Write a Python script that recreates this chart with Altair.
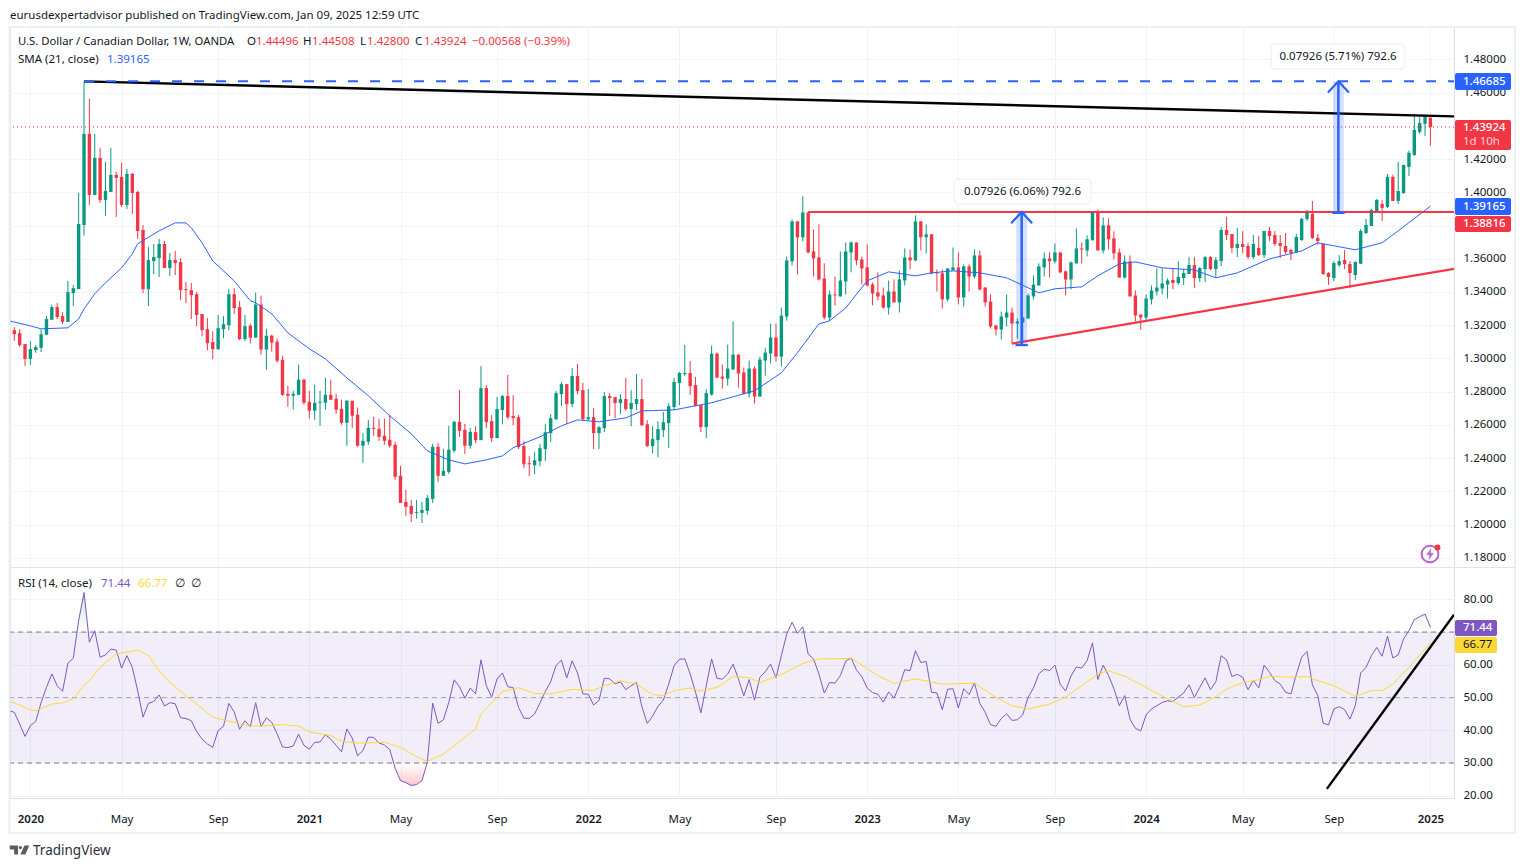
import altair as alt
import pandas as pd

FONT = "Noto Sans"
GREEN, RED, BLUE, PURPLE, YELLOW = "#089981", "#f23645", "#2962ff", "#7e57c2", "#fdd835"
INK = "#131722"
GRID = "#f0f3fa"

opens = [1.3170,1.3152,1.3086,1.2997,1.3050,1.3064,1.3142,1.3233,1.3309,1.3255,
1.3220,1.3393,1.3417,1.3803,1.4352,1.3984,1.4207,1.3954,1.4002,1.4105,
1.4093,1.3924,1.4111,1.4002,1.3773,1.3417,1.3586,1.3604,1.3689,1.3544,
1.3592,1.3580,1.3417,1.3411,1.3387,1.3267,1.3176,1.3098,1.3056,1.3176,
1.3200,1.3387,1.3309,1.3116,1.3197,1.3125,1.3324,1.3053,1.3137,1.3101,
1.2992,1.2787,1.2775,1.2781,1.2872,1.2739,1.2685,1.2733,1.2733,1.2781,
1.2757,1.2697,1.2612,1.2745,1.2661,1.2474,1.2498,1.2582,1.2576,1.2534,
1.2510,1.2480,1.2293,1.2136,1.2112,1.2070,1.2070,1.2082,1.2154,1.2468,
1.2293,1.2317,1.2444,1.2618,1.2570,1.2474,1.2556,1.2508,1.2821,1.2622,
1.2520,1.2689,1.2773,1.2653,1.2646,1.2472,1.2369,1.2357,1.2381,1.2454,
1.2550,1.2634,1.2785,1.2845,1.2725,1.2894,1.2809,1.2634,1.2646,1.2550,
1.2580,1.2773,1.2767,1.2731,1.2755,1.2695,1.2725,1.2755,1.2604,1.2472,
1.2508,1.2568,1.2610,1.2707,1.2852,1.2906,1.2912,1.2839,1.2719,1.2586,
1.2782,1.3029,1.2890,1.2878,1.2933,1.3023,1.2915,1.2788,1.2939,1.2770,
1.2987,1.3029,1.3126,1.3011,1.3252,1.3584,1.3825,1.3729,1.3879,1.3644,
1.3608,1.3481,1.3246,1.3385,1.3373,1.3463,1.3638,1.3698,1.3596,1.3548,
1.3445,1.3397,1.3379,1.3306,1.3403,1.3337,1.3469,1.3608,1.3590,1.3825,
1.3729,1.3747,1.3518,1.3512,1.3355,1.3530,1.3548,1.3367,1.3554,1.3493,
1.3620,1.3427,1.3343,1.3198,1.3174,1.3246,1.3276,1.3210,1.3216,1.3240,
1.3373,1.3439,1.3548,1.3602,1.3584,1.3638,1.3524,1.3475,1.3572,1.3662,
1.3650,1.3711,1.3879,1.3650,1.3801,1.3723,1.3638,1.3487,1.3584,1.3379,
1.3264,1.3246,1.3355,1.3403,1.3421,1.3445,1.3472,1.3454,1.3484,1.3508,
1.3562,1.3484,1.3538,1.3610,1.3538,1.3586,1.3773,1.3749,1.3665,1.3689,
1.3677,1.3610,1.3665,1.3622,1.3767,1.3743,1.3695,1.3677,1.3653,1.3641,
1.3713,1.3840,1.3870,1.3725,1.3689,1.3514,1.3484,1.3562,1.3592,1.3568,
1.3502,1.3570,1.3755,1.3797,1.3882,1.3930,1.3912,1.4093,1.3948,1.3996,
1.4153,1.4225,1.4364,1.4412,1.44496]

highs = [1.3188,1.3176,1.3086,1.3104,1.3080,1.3174,1.3255,1.3321,1.3333,1.3279,
1.3466,1.3442,1.3996,1.4668,1.4563,1.4352,1.4268,1.4183,1.4268,1.4123,
1.4177,1.4141,1.4117,1.4008,1.3803,1.3671,1.3689,1.3719,1.3707,1.3635,
1.3647,1.3604,1.3460,1.3454,1.3399,1.3267,1.3243,1.3164,1.3261,1.3255,
1.3417,1.3423,1.3345,1.3261,1.3209,1.3396,1.3378,1.3179,1.3143,1.3119,
1.3016,1.2836,1.2805,1.2962,1.2878,1.2805,1.2842,1.2805,1.2884,1.2872,
1.2787,1.2751,1.2751,1.2745,1.2703,1.2552,1.2630,1.2649,1.2637,1.2637,
1.2661,1.2498,1.2353,1.2208,1.2148,1.2148,1.2136,1.2178,1.2486,1.2492,
1.2456,1.2594,1.2624,1.2811,1.2606,1.2582,1.2592,1.2954,1.2839,1.2659,
1.2767,1.2779,1.2900,1.2779,1.2659,1.2502,1.2411,1.2435,1.2484,1.2604,
1.2665,1.2803,1.2858,1.2845,1.2942,1.2966,1.2852,1.2815,1.2701,1.2592,
1.2797,1.2791,1.2767,1.2785,1.2882,1.2809,1.2906,1.2876,1.2628,1.2592,
1.2622,1.2677,1.2731,1.2882,1.2918,1.3081,1.2984,1.2888,1.2719,1.2815,
1.3077,1.3035,1.2963,1.3083,1.3222,1.3023,1.2945,1.2987,1.2951,1.3011,
1.3065,1.3210,1.3210,1.3306,1.3614,1.3837,1.3825,1.3976,1.3879,1.3777,
1.3807,1.3572,1.3409,1.3493,1.3644,1.3698,1.3704,1.3698,1.3614,1.3686,
1.3457,1.3518,1.3427,1.3469,1.3475,1.3530,1.3662,1.3656,1.3861,1.3825,
1.3807,1.3747,1.3536,1.3536,1.3542,1.3668,1.3638,1.3566,1.3566,1.3656,
1.3650,1.3427,1.3385,1.3204,1.3282,1.3385,1.3306,1.3240,1.3252,1.3391,
1.3499,1.3572,1.3638,1.3638,1.3692,1.3638,1.3530,1.3584,1.3783,1.3698,
1.3741,1.3879,1.3897,1.3849,1.3843,1.3765,1.3662,1.3620,1.3620,1.3409,
1.3264,1.3385,1.3439,1.3542,1.3542,1.3481,1.3544,1.3586,1.3538,1.3610,
1.3610,1.3550,1.3616,1.3616,1.3610,1.3791,1.3852,1.3749,1.3785,1.3767,
1.3695,1.3743,1.3737,1.3767,1.3791,1.3767,1.3743,1.3755,1.3659,1.3749,
1.3846,1.3894,1.3948,1.3749,1.3689,1.3520,1.3586,1.3622,1.3653,1.3586,
1.3586,1.3779,1.3840,1.3900,1.3960,1.3954,1.4111,1.4105,1.4183,1.4165,
1.4250,1.4473,1.4455,1.4467,1.44508]

lows = [1.3106,1.3070,1.2955,1.2961,1.3034,1.3038,1.3140,1.3230,1.3237,1.3206,
1.3220,1.3315,1.3417,1.3739,1.3924,1.3984,1.3936,1.3858,1.4002,1.3852,
1.3912,1.3900,1.3870,1.3719,1.3393,1.3315,1.3508,1.3490,1.3544,1.3496,
1.3502,1.3351,1.3333,1.3237,1.3194,1.3134,1.3050,1.2995,1.3050,1.3122,
1.3170,1.3267,1.3110,1.3104,1.3089,1.3125,1.3022,1.2932,1.3041,1.2974,
1.2775,1.2709,1.2691,1.2781,1.2721,1.2637,1.2630,1.2594,1.2691,1.2751,
1.2667,1.2600,1.2474,1.2582,1.2468,1.2371,1.2480,1.2534,1.2504,1.2480,
1.2462,1.2269,1.2130,1.2052,1.2015,1.2034,1.2009,1.2058,1.2130,1.2257,
1.2293,1.2305,1.2432,1.2528,1.2425,1.2456,1.2490,1.2508,1.2580,1.2496,
1.2520,1.2604,1.2634,1.2598,1.2454,1.2339,1.2291,1.2303,1.2351,1.2383,
1.2496,1.2628,1.2713,1.2604,1.2707,1.2785,1.2622,1.2628,1.2454,1.2454,
1.2556,1.2653,1.2640,1.2665,1.2683,1.2592,1.2689,1.2592,1.2466,1.2429,
1.2405,1.2526,1.2460,1.2689,1.2719,1.2894,1.2779,1.2713,1.2556,1.2520,
1.2776,1.2884,1.2818,1.2836,1.2933,1.2824,1.2782,1.2764,1.2728,1.2770,
1.2896,1.2969,1.2981,1.2951,1.3228,1.3560,1.3505,1.3704,1.3632,1.3493,
1.3469,1.3234,1.3228,1.3319,1.3373,1.3385,1.3518,1.3560,1.3445,1.3433,
1.3319,1.3349,1.3300,1.3264,1.3337,1.3276,1.3439,1.3536,1.3584,1.3650,
1.3632,1.3505,1.3403,1.3300,1.3343,1.3530,1.3325,1.3312,1.3403,1.3481,
1.3409,1.3312,1.3180,1.3138,1.3114,1.3192,1.3089,1.3120,1.3089,1.3240,
1.3355,1.3439,1.3493,1.3487,1.3572,1.3512,1.3379,1.3415,1.3572,1.3572,
1.3614,1.3711,1.3650,1.3632,1.3656,1.3596,1.3487,1.3481,1.3373,1.3222,
1.3174,1.3228,1.3325,1.3379,1.3385,1.3361,1.3417,1.3442,1.3442,1.3508,
1.3423,1.3460,1.3460,1.3532,1.3484,1.3556,1.3713,1.3635,1.3610,1.3635,
1.3598,1.3598,1.3616,1.3604,1.3707,1.3677,1.3604,1.3628,1.3592,1.3635,
1.3707,1.3827,1.3719,1.3683,1.3502,1.3442,1.3466,1.3550,1.3538,1.3423,
1.3472,1.3568,1.3749,1.3797,1.3882,1.3827,1.3906,1.3948,1.3930,1.3990,
1.4099,1.4219,1.4352,1.4340,1.42800]

closes = [1.3146,1.3080,1.2997,1.3056,1.3068,1.3146,1.3237,1.3309,1.3249,1.3220,
1.3399,1.3423,1.3809,1.4352,1.3984,1.4207,1.3954,1.4008,1.4105,1.4087,
1.3924,1.4111,1.3996,1.3767,1.3417,1.3592,1.3610,1.3689,1.3544,1.3592,
1.3574,1.3411,1.3411,1.3381,1.3261,1.3170,1.3092,1.3056,1.3182,1.3206,
1.3387,1.3303,1.3116,1.3194,1.3125,1.3324,1.3053,1.3137,1.3095,1.2986,
1.2781,1.2775,1.2787,1.2872,1.2733,1.2685,1.2733,1.2739,1.2781,1.2751,
1.2691,1.2612,1.2745,1.2655,1.2474,1.2504,1.2582,1.2576,1.2528,1.2504,
1.2474,1.2287,1.2130,1.2106,1.2064,1.2076,1.2088,1.2160,1.2468,1.2293,
1.2323,1.2450,1.2618,1.2564,1.2474,1.2558,1.2508,1.2821,1.2616,1.2520,
1.2695,1.2773,1.2646,1.2640,1.2466,1.2363,1.2363,1.2387,1.2460,1.2556,
1.2640,1.2791,1.2845,1.2725,1.2894,1.2803,1.2634,1.2646,1.2550,1.2586,
1.2773,1.2761,1.2731,1.2755,1.2695,1.2731,1.2755,1.2598,1.2472,1.2514,
1.2574,1.2616,1.2713,1.2858,1.2912,1.2912,1.2833,1.2713,1.2586,1.2791,
1.3029,1.2884,1.2878,1.2939,1.3023,1.2909,1.2788,1.2939,1.2770,1.2993,
1.3035,1.3126,1.3011,1.3258,1.3590,1.3825,1.3729,1.3879,1.3638,1.3602,
1.3475,1.3246,1.3385,1.3379,1.3469,1.3644,1.3698,1.3590,1.3542,1.3439,
1.3391,1.3373,1.3306,1.3403,1.3337,1.3475,1.3608,1.3590,1.3825,1.3729,
1.3747,1.3512,1.3512,1.3355,1.3542,1.3548,1.3367,1.3554,1.3493,1.3620,
1.3415,1.3337,1.3192,1.3174,1.3252,1.3276,1.3210,1.3222,1.3246,1.3379,
1.3445,1.3554,1.3602,1.3584,1.3638,1.3518,1.3475,1.3578,1.3662,1.3656,
1.3717,1.3879,1.3650,1.3801,1.3717,1.3632,1.3487,1.3584,1.3373,1.3258,
1.3246,1.3361,1.3409,1.3427,1.3451,1.3469,1.3454,1.3490,1.3514,1.3562,
1.3484,1.3544,1.3610,1.3538,1.3592,1.3773,1.3743,1.3665,1.3689,1.3671,
1.3610,1.3689,1.3622,1.3767,1.3737,1.3689,1.3677,1.3641,1.3635,1.3731,
1.3840,1.3888,1.3725,1.3707,1.3508,1.3490,1.3574,1.3586,1.3568,1.3514,
1.3580,1.3767,1.3803,1.3894,1.3954,1.3906,1.4093,1.3948,1.4008,1.4165,
1.4238,1.4376,1.4418,1.4455,1.43924]

sma_bars = [-1,3,5,10,12,13,15,17,20,22,23,27,30,32,33,35,37,41,44,45,48,51,55,58,62,66,70,74,77,81,84,88,91,93,98,102,105,109,114,117,123,130,134,138,143,146,150,152,155,159,163,168,171,175,180,185,191,194,199,202,206,209,214,220,224,228,234,240,243,250,255,258,264]
sma_vals = [1.3226,1.3196,1.3178,1.3184,1.3238,1.3298,1.3389,1.3455,1.3545,1.3629,1.3690,1.3768,1.3816,1.3816,1.3786,1.3696,1.3587,1.3467,1.3347,1.3335,1.3268,1.3154,1.3058,1.2997,1.2883,1.2775,1.2654,1.2546,1.2444,1.2389,1.2365,1.2389,1.2413,1.2462,1.2528,1.2594,1.2630,1.2618,1.2642,1.2684,1.2690,1.2733,1.2769,1.2805,1.2913,1.3034,1.3208,1.3226,1.3304,1.3467,1.3521,1.3497,1.3515,1.3527,1.3515,1.3485,1.3395,1.3419,1.3431,1.3497,1.3569,1.3581,1.3545,1.3533,1.3485,1.3515,1.3599,1.3647,1.3696,1.3654,1.3696,1.3768,1.39165]

rsi_vals = [46.0,45.5,41.9,38.1,41.4,42.7,48.5,53.1,57.2,53.6,51.9,60.5,62.0,73.5,82.1,66.9,70.4,62.3,63.0,64.8,64.5,
59.0,62.8,59.2,52.1,44.0,48.2,48.8,50.8,47.4,48.4,48.1,43.8,43.6,42.9,39.6,37.3,35.8,34.8,39.9,41.2,
48.2,45.6,40.3,42.9,41.1,48.4,41.1,43.8,42.4,38.9,34.9,34.7,35.2,38.8,35.4,34.2,36.3,36.4,38.6,37.3,
35.4,33.4,40.4,37.6,32.2,33.8,37.9,37.8,36.1,35.5,34.1,28.4,24.6,24.0,23.1,23.4,24.6,30.2,48.3,42.1,
43.2,48.5,55.4,53.3,49.8,52.9,51.1,61.5,53.6,50.1,55.7,57.5,53.3,53.0,47.0,43.7,43.6,45.0,48.3,51.9,
54.8,59.8,61.4,56.0,61.2,57.5,51.1,51.0,47.7,49.1,55.9,55.7,54.2,54.8,52.4,53.6,54.6,47.2,42.1,44.3,
47.3,49.2,54.1,59.7,61.7,61.8,57.2,51.6,45.3,53.6,61.8,55.9,55.6,57.2,60.2,55.7,50.5,55.5,49.2,56.2,
57.9,60.2,56.0,62.8,69.4,73.0,69.6,71.6,63.3,61.8,57.2,51.4,54.6,54.4,56.7,61.1,62.1,58.4,56.4,52.9,
51.5,51.0,48.6,51.7,49.8,53.6,58.5,58.2,64.3,60.7,61.0,51.6,51.4,46.3,52.5,52.7,46.8,52.7,50.9,54.5,
48.2,45.5,41.7,41.2,43.6,45.0,43.0,43.2,44.7,50.1,52.9,57.2,58.7,58.2,59.9,54.0,52.0,56.6,59.3,59.0,
61.3,66.7,55.5,59.9,56.7,52.7,47.5,50.6,43.4,40.6,39.8,44.7,46.5,47.5,48.5,49.0,48.8,50.1,51.4,53.9,
50.0,53.1,56.0,52.4,54.8,62.8,61.5,56.4,57.1,56.2,52.4,55.2,52.9,59.9,57.7,55.2,54.1,51.6,51.1,57.0,
62.3,64.1,53.9,50.6,42.2,41.6,46.5,47.2,46.3,43.4,47.5,57.5,59.2,62.8,65.3,62.6,68.7,62.1,63.0,67.9,
70.4,73.8,74.7,75.5,71.44]

rma_bars = [-1,1,3,4,7,9,11,13,14,16,19,23,25,27,29,32,37,41,44,47,50,53,55,59,61,64,69,72,75,77,79,80,83,86,87,90,91,94,97,100,104,108,110,113,116,119,121,123,126,128,131,134,137,139,143,147,150,152,156,161,164,168,173,179,182,183,186,189,193,196,199,202,204,207,211,215,218,221,224,226,229,232,234,238,241,242,246,250,253,255,257,260,263,264]
rma_vals = [49.0,47.7,46.2,46.0,48.0,48.4,49.6,53.8,55.2,59.2,63.3,64.5,62.8,58.2,54.6,50.6,44.0,42.4,41.3,41.4,41.7,41.3,39.5,38.4,36.6,36.1,36.3,34.8,31.9,30.4,32.0,32.7,36.5,40.4,45.0,50.1,51.8,53.0,51.2,51.1,52.5,52.2,53.6,55.1,54.1,50.9,50.6,52.1,52.9,52.0,53.1,56.4,56.1,54.6,57.0,60.4,61.8,61.8,62.0,56.7,54.3,55.7,54.1,54.4,51.1,50.1,47.5,46.5,48.0,50.1,53.6,57.2,58.2,56.5,53.1,49.6,47.2,47.7,50.3,52.6,54.6,55.4,56.5,56.2,56.4,55.7,53.6,50.4,52.1,52.1,54.1,59.2,64.8,66.77]

price_ticks = [1.18,1.20,1.22,1.24,1.26,1.28,1.30,1.32,1.34,1.36,1.38,1.40,1.42,1.44,1.46,1.48]
rsi_ticks = [20,30,40,50,60,70,80]
time_bars = [3,20,38,55,72,90,107,124,142,159,176,194,211,229,246,264]
time_labels = ["2020","May","Sep","2021","May","Sep","2022","May","Sep","2023","May","Sep","2024","May","Sep","2025"]

LEFT_BAR, RIGHT_BAR = -0.8, 268.4
black_line_x, black_line_y = [13, RIGHT_BAR], [1.4668, 1.4457]
blue_line_x, blue_line_y = [13, RIGHT_BAR], [1.46685, 1.46685]
red_flat_x, red_flat_y = [148, RIGHT_BAR], [1.38816, 1.38816]
red_rise_x, red_rise_y = [186, RIGHT_BAR], [1.3089, 1.3539]
rsi_trend_x, rsi_trend_y = [244.7, RIGHT_BAR], [22.1, 75.3]
arrow_bar = [187.8, 246.85]
arrow_low = [1.3080, 1.38759]
arrow_high = [1.38816, 1.46685]

cdf = pd.DataFrame({"i": range(len(opens)), "o": opens, "h": highs, "l": lows, "c": closes})
cdf["color"] = [GREEN if c >= o else RED for o, c in zip(opens, closes)]
rsi_df = pd.DataFrame({"i": range(-1, len(rsi_vals) - 1), "r": rsi_vals})
rsi_df["over"] = rsi_df["r"].clip(lower=70)
rsi_df["under"] = rsi_df["r"].clip(upper=30)
one = pd.DataFrame({"a": [0]})

xscale = alt.Scale(domain=[LEFT_BAR, RIGHT_BAR], nice=False, zero=False, padding=0)
lookup = "{" + ",".join(f"'{b}':'{t}'" for b, t in zip(time_bars, time_labels)) + "}"
is_year = "datum.value==3||datum.value==55||datum.value==107||datum.value==159||datum.value==211||datum.value==264"
xaxis = alt.Axis(values=time_bars, labelExpr=lookup + "[datum.value]", title=None, domain=False, ticks=False,
                 grid=True, gridColor=GRID, labelPadding=15, labelFont=FONT, labelFontSize=11.5, labelColor=INK,
                 labelFontWeight={"condition": {"test": is_year, "value": 600}, "value": 400},
                 labelOverlap=False, labelBound=False, labelFlush=False)
pscale = alt.Scale(domain=[1.03534, 1.49952], nice=False, zero=False)
paxis = alt.Axis(values=price_ticks,
                 labelExpr="(abs(datum.value-1.44)<0.0001||abs(datum.value-1.38)<0.0001)?'':format(datum.value,'.5f')",
                 orient="right", title=None, domain=False, ticks=False, grid=True,
                 gridColor=GRID, labelPadding=9, labelFont=FONT, labelFontSize=11.5, labelColor=INK, labelAlign="left",
                 labelOverlap=False, labelBound=False, labelFlush=False)
rscale = alt.Scale(domain=[19.3, 254.86], nice=False, zero=False)
raxis = alt.Axis(values=rsi_ticks, labelExpr="datum.value==70?'':format(datum.value,'.2f')",
                 orient="right", title=None, domain=False, ticks=False, grid=True,
                 gridColor=GRID, labelPadding=9, labelFont=FONT, labelFontSize=11.5, labelColor=INK, labelAlign="left",
                 labelOverlap=False, labelBound=False, labelFlush=False)

X = lambda f: alt.X(f, type="quantitative", scale=xscale, axis=xaxis)
PY = lambda f: alt.Y(f, type="quantitative", scale=pscale, axis=paxis)
RY = lambda f: alt.Y(f, type="quantitative", scale=rscale, axis=raxis)

def pline(xs, ys, color, width, dash=None):
    kw = {"strokeDash": dash} if dash else {}
    return alt.Chart(pd.DataFrame({"i": xs, "p": ys})).mark_line(color=color, strokeWidth=width, clip=True, **kw).encode(
        x=X("i"), y=PY("p"), order="i:Q")

def txt(s, x, y, color=INK, size=11.5, weight=400, align="left"):
    return alt.Chart(one).mark_text(text=s, color=color, fontSize=size, fontWeight=weight, font=FONT, align=align,
                                    baseline="middle").encode(x=alt.value(x - 10), y=alt.value(y - 27))

def box(x1, x2, y1, y2, fill, stroke=None, radius=0, sw=1, **kw):
    if stroke:
        kw.update(stroke=stroke, strokeWidth=sw)
    return alt.Chart(one).mark_rect(fill=fill, cornerRadius=radius, **kw).encode(
        x=alt.value(x1 - 10), x2=alt.value(x2 - 10), y=alt.value(y1 - 27), y2=alt.value(y2 - 27))

def glyph(path, x, y, size, **kw):
    return alt.Chart(one).mark_point(shape=path, size=size, **kw).encode(x=alt.value(x - 10), y=alt.value(y - 27))

# ---------- price pane ----------
wicks = alt.Chart(cdf).mark_rule(strokeWidth=1).encode(
    x=X("i"), y=PY("l"), y2=alt.Y2("h"), color=alt.Color("color:N", scale=None))
bodies = alt.Chart(cdf).mark_bar(size=3.4).encode(
    x=X("i"), y=PY("o"), y2=alt.Y2("c"), color=alt.Color("color:N", scale=None))
last_line = alt.Chart(pd.DataFrame({"p": [closes[-1]]})).mark_rule(color=RED, strokeWidth=1, strokeDash=[1, 3]).encode(y=PY("p"))
sma = pline(sma_bars, sma_vals, BLUE, 1)

bands = alt.Chart(pd.DataFrame({"i1": [a - 1 for a in arrow_bar], "i2": [a + 1 for a in arrow_bar],
                                "lo": arrow_low, "hi": arrow_high})).mark_rect(fill=BLUE, opacity=0.2).encode(
    x=X("i1"), x2=alt.X2("i2"), y=PY("lo"), y2=alt.Y2("hi"))

arrow_parts = []
for bar, lo, hi in zip(arrow_bar, arrow_low, arrow_high):
    arrow_parts.append(pline([bar, bar + 0.001], [lo, hi], BLUE, 2.5))
    arrow_parts.append(pline([bar - 1.15, bar + 1.15], [lo, lo], BLUE, 2.2))
    arrow_parts.append(pline([bar - 1.95, bar, bar + 1.95], [hi - 0.0068, hi, hi - 0.0068], BLUE, 2.2))

price_layers = [wicks, bodies, last_line, sma,
                pline(red_flat_x, red_flat_y, RED, 2),
                pline(red_rise_x, red_rise_y, RED, 2.2),
                pline(black_line_x, black_line_y, "#000000", 2.4),
                pline(blue_line_x, blue_line_y, BLUE, 2, [10, 12]),
                bands] + arrow_parts
price = alt.layer(*price_layers)

# ---------- RSI pane ----------
rsi_band = alt.Chart(pd.DataFrame({"a": [LEFT_BAR], "b": [RIGHT_BAR], "t": [70], "u": [30]})).mark_rect(
    fill=PURPLE, opacity=0.1).encode(x=X("a"), x2=alt.X2("b"), y=RY("t"), y2=alt.Y2("u"))
rsi_rule_dark = alt.Chart(pd.DataFrame({"v": [70, 30]})).mark_rule(color="#787b86", strokeWidth=1, strokeDash=[5, 4]).encode(y=RY("v"))
rsi_rule_mid = alt.Chart(pd.DataFrame({"v": [50]})).mark_rule(color="#787b86", opacity=0.6, strokeWidth=1, strokeDash=[5, 4]).encode(y=RY("v"))
over_area = alt.Chart(rsi_df).mark_area(clip=True, color=alt.Gradient(
    gradient="linear", x1=0, x2=0, y1=0, y2=1,
    stops=[alt.GradientStop(color="rgba(76,175,80,0.28)", offset=0), alt.GradientStop(color="rgba(76,175,80,0.0)", offset=1)])).encode(
    x=X("i"), y=RY("over"), y2=alt.Y2(datum=70))
under_area = alt.Chart(rsi_df).mark_area(clip=True, color=alt.Gradient(
    gradient="linear", x1=0, x2=0, y1=1, y2=0,
    stops=[alt.GradientStop(color="rgba(242,54,69,0.28)", offset=0), alt.GradientStop(color="rgba(242,54,69,0.0)", offset=1)])).encode(
    x=X("i"), y=RY("under"), y2=alt.Y2(datum=30))
rsi_line = alt.Chart(rsi_df).mark_line(color=PURPLE, strokeWidth=1, clip=True).encode(x=X("i"), y=RY("r"))
rma_line = alt.Chart(pd.DataFrame({"i": rma_bars, "r": rma_vals})).mark_line(color=YELLOW, strokeWidth=1, clip=True).encode(x=X("i"), y=RY("r"))
rsi_trend = alt.Chart(pd.DataFrame({"i": rsi_trend_x, "r": rsi_trend_y})).mark_line(color="#000000", strokeWidth=2.4, clip=True).encode(x=X("i"), y=RY("r"))

# ---------- frame, badges, captions ----------
deco = [
    box(9.5, 1515, 27, 833, "transparent", stroke="#eceff4", sw=2),
    alt.Chart(one).mark_rule(color="#e0e3eb", strokeWidth=1).encode(
        x=alt.value(0), x2=alt.value(1505), y=alt.value(540.5)),
    txt("eurusdexpertadvisor published on TradingView.com, Jan 09, 2025 12:59 UTC", 10, 16),
    txt("U.S. Dollar / Canadian Dollar, 1W, OANDA", 18, 42, size=11.3),
    txt("O", 247, 42), txt("1.44496", 256, 42, RED),
    txt("H", 303, 42), txt("1.44508", 312, 42, RED),
    txt("L", 360, 42), txt("1.42800", 367, 42, RED),
    txt("C", 415, 42), txt("1.43924", 424, 42, RED),
    txt("−0.00568 (−0.39%)", 472, 42, RED),
    txt("SMA (21, close)", 18, 60), txt("1.39165", 107, 60, BLUE),
    txt("RSI (14, close)", 18, 584), txt("71.44", 101, 584, PURPLE), txt("66.77", 138, 584, YELLOW),
    txt("∅", 175, 584), txt("∅", 191, 584),
    box(954, 1091, 179, 204, "#ffffff", stroke="#ececf1", radius=4),
    txt("0.07926 (6.06%) 792.6", 1022.5, 191.5, align="center"),
    box(1271, 1405, 44, 69, "#ffffff", stroke="#ececf1", radius=4),
    txt("0.07926 (5.71%) 792.6", 1338, 56.5, align="center"),
    box(1455, 1511, 73, 90, BLUE, radius=2), txt("1.46685", 1463, 81.5, "#ffffff", weight=500),
    box(1455, 1511, 120, 150, RED, radius=2), txt("1.43924", 1463, 128, "#ffffff", weight=500),
    txt("1d 10h", 1463, 142, "#ffd5d9"),
    box(1455, 1511, 198, 215, BLUE, radius=2), txt("1.39165", 1463, 206.5, "#ffffff", weight=500),
    box(1455, 1511, 216, 232, RED, radius=2), txt("1.38816", 1463, 224, "#ffffff", weight=500),
    box(1455, 1497, 620, 636, PURPLE, radius=2), txt("71.44", 1463, 628, "#ffffff", weight=500),
    box(1455, 1497, 637, 653, YELLOW, radius=2), txt("66.77", 1463, 645, INK),
    glyph("circle", 1430, 554, 280, color="#9c27b0", strokeWidth=2, filled=False),
    glyph("M0.2,-1 L-0.65,0.15 L-0.05,0.15 L-0.2,1 L0.65,-0.15 L0.05,-0.15 Z", 1430, 554, 110, fill="#9c27b0", stroke="#9c27b0", strokeWidth=0.5, filled=True),
    glyph("circle", 1437.5, 547.5, 34, color=RED, filled=True, opacity=1),
    glyph("M-1,-0.45 H-0.15 V0.45 H-0.55 V-0.05 H-1 Z M-0.08,-0.25 a0.17,0.17 0 1,0 0.34,0 a0.17,0.17 0 1,0 -0.34,0 Z M0.5,-0.45 H1 L0.6,0.45 H0.1 Z",
          19.5, 850, 380, fill="#131722", stroke="#131722", strokeWidth=0, filled=True),
    txt("TradingView", 33, 851, "#2a2e39", size=13.5),
]

rsi = alt.layer(rsi_band, rsi_rule_dark, rsi_rule_mid, over_area, under_area, rsi_line, rma_line, rsi_trend, *deco)

chart = (alt.layer(price, rsi)
         .resolve_scale(y="independent")
         .properties(width=1444, height=771,
                     autosize=alt.AutoSizeParams(type="none"),
                     padding={"left": 2, "top": 19, "right": 62, "bottom": 62},
                     background="#ffffff")
         .configure_view(stroke=None)
         .configure(font=FONT))

chart.save("out.html", embed_options={"renderer": "svg", "actions": False})
